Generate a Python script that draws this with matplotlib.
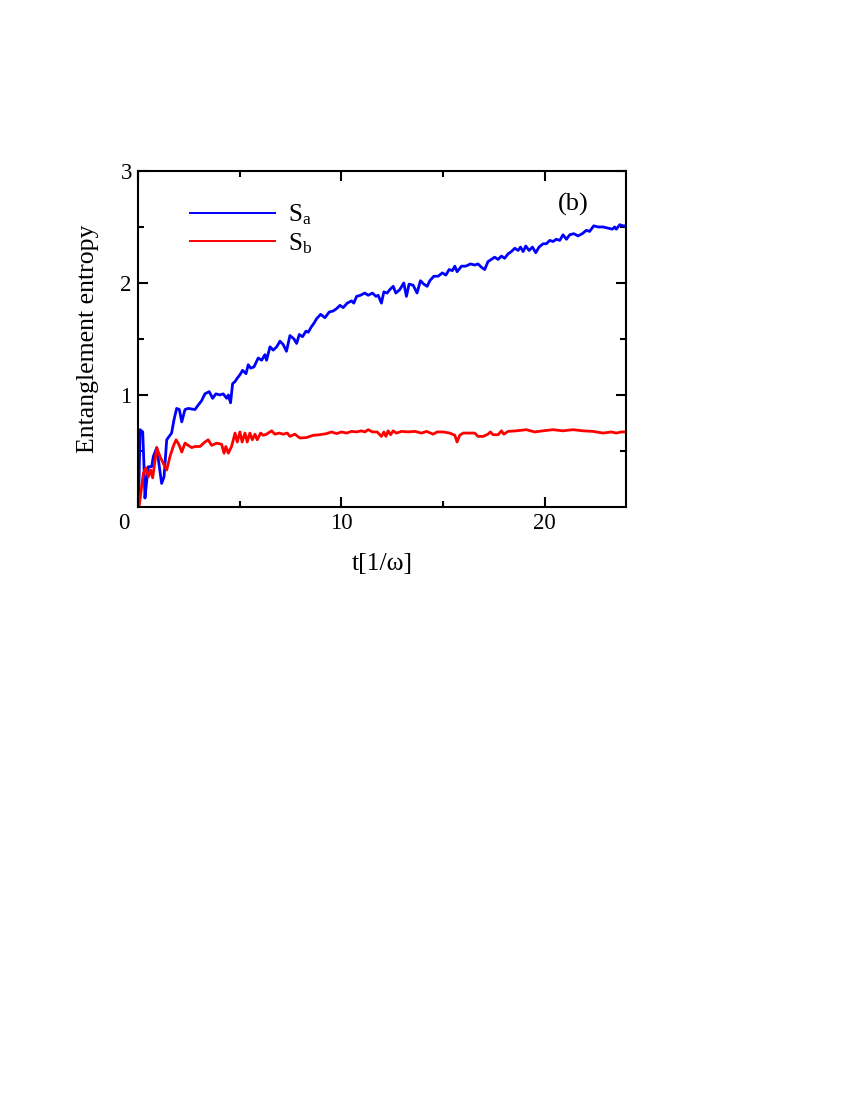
import matplotlib
matplotlib.use('Agg')
import matplotlib.pyplot as plt
from matplotlib.transforms import ScaledTranslation

plt.rcParams['font.family'] = ['Liberation Serif', 'DejaVu Serif']
plt.rcParams['mathtext.fontset'] = 'custom'
plt.rcParams['mathtext.rm'] = 'Liberation Serif'

# S_a (blue)
t_a = [0.02, 0.10, 0.23, 0.30, 0.34, 0.43, 0.51, 0.67, 0.75, 0.92, 1.05, 1.16, 1.28,
       1.41, 1.65, 1.77, 1.90, 2.03, 2.15, 2.31, 2.47, 2.64, 2.80, 2.96, 3.13, 3.29,
       3.50, 3.67, 3.83, 4.03, 4.19, 4.36, 4.44, 4.55, 4.65, 4.77, 4.88, 5.01, 5.14,
       5.31, 5.42, 5.54, 5.70, 5.91, 6.08, 6.24, 6.32, 6.49, 6.65, 6.82, 6.98, 7.14,
       7.30, 7.47, 7.67, 7.80, 7.93, 8.09, 8.26, 8.37, 8.53, 8.65, 8.78, 8.98, 9.19,
       9.40, 9.60, 9.76, 9.93, 10.09, 10.29, 10.50, 10.61, 10.75, 10.94, 11.15, 11.32,
       11.53, 11.70, 11.81, 11.97, 12.09, 12.25, 12.38, 12.55, 12.68, 12.87, 13.07,
       13.20, 13.33, 13.53, 13.72, 13.89, 14.05, 14.22, 14.35, 14.55, 14.76, 14.97,
       15.14, 15.30, 15.46, 15.58, 15.69, 15.91, 16.12, 16.35, 16.56, 16.72, 16.89,
       17.05, 17.21, 17.38, 17.54, 17.71, 17.87, 18.03, 18.20, 18.36, 18.53, 18.69,
       18.81, 18.94, 19.07, 19.23, 19.40, 19.56, 19.72, 19.92, 20.08, 20.25, 20.41,
       20.57, 20.74, 20.90, 21.07, 21.23, 21.43, 21.64, 21.85, 22.05, 22.21, 22.41,
       22.62, 22.87, 23.11, 23.33, 23.44, 23.52, 23.69, 23.85, 24.00]
s_a = [0.00, 0.69, 0.67, 0.33, 0.08, 0.24, 0.36, 0.36, 0.45, 0.53, 0.36, 0.21, 0.27,
       0.60, 0.66, 0.78, 0.88, 0.87, 0.76, 0.87, 0.88, 0.875, 0.87, 0.91, 0.95, 1.01,
       1.03, 0.97, 1.01, 1.00, 1.01, 0.97, 1.00, 0.93, 1.10, 1.12, 1.15, 1.18, 1.22,
       1.19, 1.27, 1.24, 1.25, 1.33, 1.31, 1.36, 1.31, 1.43, 1.40, 1.43, 1.48, 1.45,
       1.39, 1.53, 1.50, 1.46, 1.54, 1.52, 1.57, 1.56, 1.61, 1.64, 1.68, 1.72, 1.69,
       1.74, 1.75, 1.77, 1.80, 1.78, 1.82, 1.84, 1.82, 1.88, 1.89, 1.91, 1.89,
       1.91, 1.88, 1.89, 1.82, 1.92, 1.91, 1.94, 1.97, 1.91, 1.94, 2.00,
       1.88, 1.99, 1.98, 1.91, 2.02, 1.99, 1.97, 2.02, 2.06, 2.06, 2.09,
       2.07, 2.12, 2.11, 2.15, 2.10, 2.15, 2.15, 2.17, 2.16, 2.17, 2.14,
       2.12, 2.19, 2.21, 2.23, 2.21, 2.24, 2.22, 2.26, 2.28, 2.31, 2.29,
       2.32, 2.28, 2.33, 2.29, 2.32, 2.27, 2.32, 2.35, 2.35, 2.38, 2.37,
       2.39, 2.38, 2.43, 2.39, 2.43, 2.44, 2.42, 2.44, 2.47, 2.46, 2.51,
       2.50, 2.50, 2.49, 2.48, 2.50, 2.48, 2.52, 2.51, 2.51]

# S_b (red)
t_b = [0.05, 0.26, 0.39, 0.51, 0.62, 0.72, 0.84, 0.92, 1.08, 1.24, 1.41, 1.57, 1.73,
       1.87, 2.03, 2.15, 2.31, 2.47, 2.64, 2.80, 3.05, 3.29, 3.45, 3.62, 3.87, 4.11,
       4.23, 4.32, 4.44, 4.60, 4.77, 4.88, 5.01, 5.12, 5.26, 5.37, 5.50, 5.62, 5.75,
       5.86, 6.03, 6.16, 6.32, 6.57, 6.73, 6.94, 7.14, 7.34, 7.47, 7.71, 7.96, 8.29,
       8.61, 8.94, 9.27, 9.52, 9.76, 10.01, 10.26, 10.50, 10.75, 10.99, 11.15, 11.32,
       11.53, 11.76, 11.97, 12.09, 12.19, 12.30, 12.42, 12.55, 12.71, 12.96, 13.28,
       13.61, 13.94, 14.19, 14.51, 14.71, 15.00, 15.33, 15.58, 15.69, 15.82, 15.99,
       16.31, 16.56, 16.72, 16.97, 17.21, 17.33, 17.46, 17.71, 17.87, 17.99, 18.20,
       18.61, 19.10, 19.51, 19.92, 20.41, 20.90, 21.39, 21.88, 22.37, 22.87, 23.28,
       23.52, 23.77, 24.00]
s_b = [0.00, 0.30, 0.35, 0.27, 0.33, 0.26, 0.42, 0.53, 0.45, 0.39, 0.33, 0.45, 0.54,
       0.60, 0.55, 0.49, 0.57, 0.55, 0.53, 0.54, 0.54, 0.58, 0.60, 0.55, 0.57, 0.56,
       0.48, 0.54, 0.48, 0.54, 0.66, 0.58, 0.67, 0.58, 0.66, 0.58, 0.66, 0.60, 0.65,
       0.60, 0.66, 0.64, 0.65, 0.68, 0.65, 0.66, 0.65, 0.66, 0.63, 0.65, 0.616, 0.62,
       0.64, 0.645, 0.655, 0.67, 0.655, 0.67, 0.66, 0.675, 0.67, 0.68, 0.67, 0.69,
       0.67, 0.67, 0.63, 0.67, 0.63, 0.68, 0.645, 0.68, 0.66, 0.675, 0.67,
       0.675, 0.66, 0.675, 0.65, 0.67, 0.67, 0.66, 0.64, 0.58, 0.64, 0.66,
       0.66, 0.66, 0.63, 0.63, 0.65, 0.67, 0.645, 0.645, 0.68, 0.65, 0.675,
       0.68, 0.69, 0.67, 0.68, 0.69, 0.68, 0.69, 0.68, 0.675, 0.66, 0.67,
       0.66, 0.67, 0.67]

x_major = [0, 10, 20]
x_minor = [5, 15]
y_major = [1, 2, 3]
y_minor = [0.5, 1.5, 2.5]

fig = plt.figure(figsize=(8.5, 11), dpi=100)
ax = fig.add_axes([0.1624, 0.5391, 0.5741, 0.3055])

ax.plot(t_a, s_a, color='#0000ff', lw=2.0, label=r'$\mathrm{S_a}$')
ax.plot(t_b, s_b, color='#ff0000', lw=2.0, label=r'$\mathrm{S_b}$')

ax.set_xlim(0, 24)
ax.set_ylim(0, 3)
ax.set_xticks(x_major)
ax.set_xticks(x_minor, minor=True)
ax.set_yticks(y_major)
ax.set_yticks(y_minor, minor=True)
ax.set_xticklabels(['0', '10', '20'])

for s in ax.spines.values():
    s.set_linewidth(1.5)
ax.tick_params(which='both', direction='in', top=True, right=True,
               width=1.5, labelsize=16.5, pad=4.5)
ax.tick_params(which='major', length=7.5)
ax.tick_params(which='minor', length=4)

# the shared "0" sits left of the corner
lab0 = ax.get_xticklabels()[0]
lab0.set_transform(lab0.get_transform() + ScaledTranslation(-0.14, 0, fig.dpi_scale_trans))

ax.set_xlabel('t[1/\u03c9]', fontsize=18.5)
ax.set_ylabel('Entanglement entropy', fontsize=18.5)
ax.xaxis.set_label_coords(0.5, -0.137)
ax.yaxis.set_label_coords(-0.08, 0.5)

ax.text(21.4, 2.7, '(b)', fontsize=19, ha='center', va='center')

leg = ax.legend(loc='upper left', bbox_to_anchor=(0.085, 0.935), frameon=False,
                fontsize=18, handlelength=3.4, handletextpad=0.55, labelspacing=0.15,
                borderaxespad=0)
for ln in leg.get_lines():
    ln.set_linewidth(1.4)

fig.savefig('out.png', dpi=100)
